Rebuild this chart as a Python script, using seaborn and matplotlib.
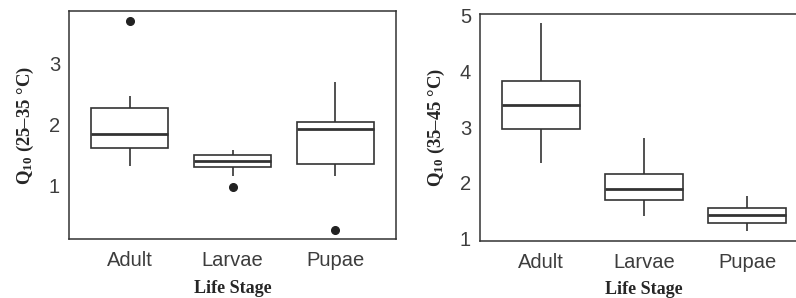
import pandas as pd
import matplotlib
matplotlib.use("Agg")
import matplotlib.pyplot as plt
import seaborn as sns

# Life stages
stages = ["Adult", "Larvae", "Pupae"]

# Q10 values for 25-35 degC
q10_low_adult = [1.33, 1.50, 1.625, 1.75, 1.84, 2.05, 2.27, 2.46, 3.69]
q10_low_larvae = [0.98, 1.17, 1.31, 1.36, 1.41, 1.46, 1.51, 1.55, 1.58]
q10_low_pupae = [0.29, 1.17, 1.36, 1.70, 1.92, 1.98, 2.04, 2.30, 2.70]

# Q10 values for 35-45 degC
q10_high_adult = [2.35, 2.70, 2.96, 3.20, 3.40, 3.60, 3.83, 4.30, 4.86]
q10_high_larvae = [1.41, 1.55, 1.69, 1.80, 1.89, 2.00, 2.17, 2.50, 2.80]
q10_high_pupae = [1.14, 1.22, 1.29, 1.36, 1.43, 1.50, 1.56, 1.66, 1.77]


def to_frame(groups):
    rows = []
    for stage, vals in zip(stages, groups):
        rows += [(stage, v) for v in vals]
    return pd.DataFrame(rows, columns=["stage", "q10"])


df_low = to_frame([q10_low_adult, q10_low_larvae, q10_low_pupae])
df_high = to_frame([q10_high_adult, q10_high_larvae, q10_high_pupae])

sns.set_theme(style="white")
plt.rcParams["font.family"] = ["Liberation Sans", "DejaVu Sans"]
plt.rcParams["mathtext.fontset"] = "custom"
plt.rcParams["mathtext.rm"] = "Liberation Serif:bold"
plt.rcParams["mathtext.it"] = "Liberation Serif:bold"
plt.rcParams["mathtext.bf"] = "Liberation Serif:bold"

fig = plt.figure(figsize=(7.96, 2.98), dpi=100)
ax1 = fig.add_axes([69 / 796, 1 - 239 / 298, 327 / 796, 228 / 298])
ax2 = fig.add_axes([480 / 796, 1 - 241 / 298, 328 / 796, 227 / 298])

line_col = "#333333"
box_kw = dict(
    x="stage", y="q10", order=stages, color="white", linecolor=line_col,
    linewidth=1.2, width=0.75, showcaps=False,
    medianprops=dict(linewidth=2.0, color=line_col),
    flierprops=dict(marker="o", markerfacecolor="#222222",
                    markeredgecolor="#222222", markersize=5.5),
)

panels = [
    (ax1, df_low, "Q$_{10}$ (25\u201335 \u00b0C)", (0.136, 3.85), [1, 2, 3], 7),
    (ax2, df_high, "Q$_{10}$ (35\u201345 \u00b0C)", (0.96, 5.03), [1, 2, 3, 4, 5], 6),
]

for ax, data, ylab, ylim, yticks, xpad in panels:
    sns.boxplot(data=data, ax=ax, **box_kw)
    for b in ax.patches:
        b.set_facecolor("white")
    ax.set_xlim(-0.59, 2.59)
    ax.set_ylim(*ylim)
    ax.set_yticks(yticks)
    ax.set_ylabel(ylab, fontfamily="Liberation Serif", fontweight="bold",
                  fontsize=13.5, labelpad=9)
    ax.set_xlabel("Life Stage", fontfamily="Liberation Serif",
                  fontweight="bold", fontsize=13, labelpad=xpad)
    ax.tick_params(axis="both", which="major", direction="out", length=3.5,
                   width=1, color="#333333", labelsize=14.5,
                   labelcolor="#3d3d3d")
    ax.tick_params(axis="y", pad=3)
    ax.tick_params(axis="x", pad=5.5)
    for s in ax.spines.values():
        s.set_visible(True)
        s.set_color("#333333")
        s.set_linewidth(1.1)

fig.savefig("out.png", dpi=100)
